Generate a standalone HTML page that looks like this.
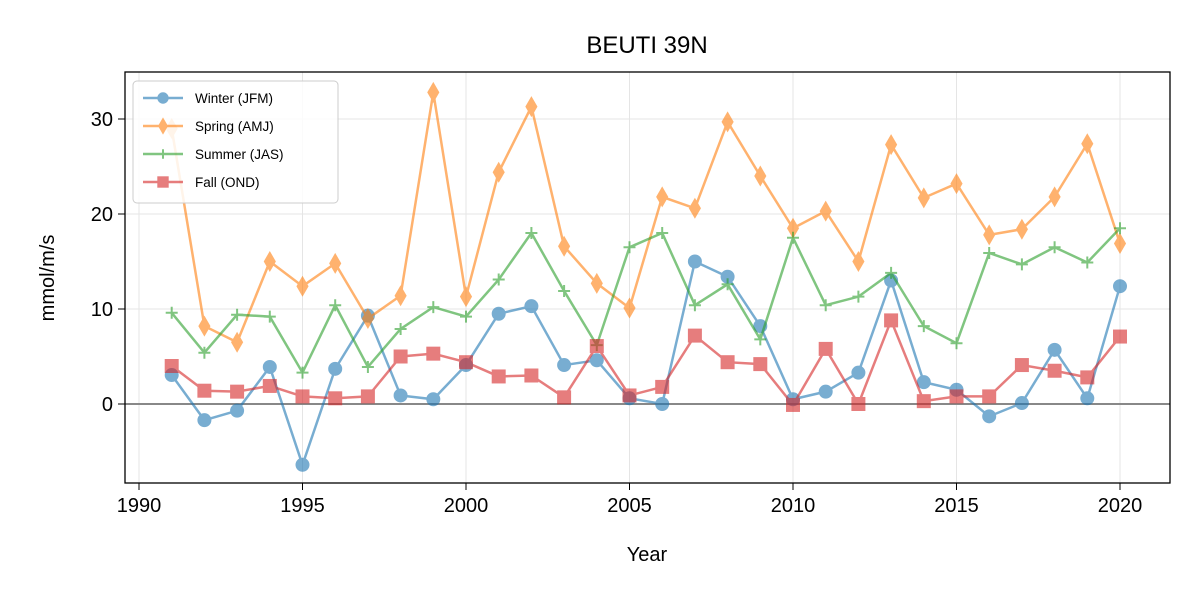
<!DOCTYPE html>
<html><head><meta charset="utf-8"><style>
body{margin:0;background:#fff;font-family:"Liberation Sans","DejaVu Sans",sans-serif}
</style></head><body>
<svg id="chart" width="1200" height="600" xmlns="http://www.w3.org/2000/svg"></svg>
<script>
const years=[1991,1992,1993,1994,1995,1996,1997,1998,1999,2000,2001,2002,2003,2004,2005,2006,2007,2008,2009,2010,2011,2012,2013,2014,2015,2016,2017,2018,2019,2020];
const winter=[3.05,-1.7,-0.7,3.9,-6.4,3.7,9.3,0.9,0.5,4.1,9.5,10.3,4.1,4.6,0.6,0,15.0,13.4,8.2,0.5,1.3,3.3,13,2.3,1.5,-1.3,0.1,5.7,0.6,12.4];
const spring=[29,8.2,6.5,15,12.4,14.8,9,11.4,32.8,11.3,24.4,31.3,16.6,12.7,10.1,21.8,20.6,29.7,24,18.5,20.3,15,27.3,21.7,23.2,17.8,18.4,21.8,27.4,16.9];
const summer=[9.6,5.4,9.4,9.2,3.3,10.4,3.9,7.9,10.2,9.2,13.1,18,11.9,6.2,16.5,18,10.4,12.6,6.8,17.5,10.4,11.3,13.8,8.2,6.4,15.9,14.7,16.5,14.9,18.5];
const fall=[4,1.4,1.3,1.9,0.8,0.6,0.8,5,5.3,4.4,2.9,3,0.7,6.1,0.9,1.8,7.2,4.4,4.2,-0.1,5.8,0,8.8,0.3,0.8,0.8,4.1,3.5,2.8,7.1];
const xTicks=[1990,1995,2000,2005,2010,2015,2020];
const yTicks=[0,10,20,30];
const seriesNames=["Winter (JFM)","Spring (AMJ)","Summer (JAS)","Fall (OND)"];
const NS="http://www.w3.org/2000/svg";
const svg=document.getElementById('chart');
const L=125,R=1170,T=72,B=483;
const X=v=>139+(v-1990)*(1120-139)/30;
const Y=v=>404-v*9.5;
function el(t,a,p){const e=document.createElementNS(NS,t);for(const k in a)e.setAttribute(k,a[k]);(p||svg).appendChild(e);return e;}
xTicks.forEach(t=>{const g=el('line',{x1:X(t),x2:X(t),y1:T,y2:B,stroke:'#e5e5e5','stroke-width':1});

});
yTicks.forEach(t=>{const g=el('line',{x1:L,x2:R,y1:Y(t),y2:Y(t),stroke:'#e5e5e5','stroke-width':1});

});
const zl=el('line',{x1:L,x2:R,y1:Y(0),y2:Y(0),stroke:'#888','stroke-width':2});


const cols=['#1f77b4','#ff7f0e','#2ca02c','#d62728'];
const data=[winter,spring,summer,fall];
function marker(k,x,y,c,g,s){
 s=s||1;
 if(k==0)return el('circle',{cx:x,cy:y,r:6.5*s,fill:c,stroke:c},g);
 if(k==1)return el('path',{d:`M${x},${y-9.5*s}L${x+5.5*s},${y}L${x},${y+9.5*s}L${x-5.5*s},${y}Z`,fill:c,stroke:c},g);
 if(k==2)return el('path',{d:`M${x-6*s},${y}H${x+6*s}M${x},${y-6*s}V${y+6*s}`,stroke:c,'stroke-width':2,fill:'none'},g);
 return el('rect',{x:x-6.5*s,y:y-6.5*s,width:13*s,height:13*s,fill:c,stroke:c},g);
}
data.forEach((d,k)=>{
 const g=el('g',{opacity:0.6});
 
 
 el('polyline',{points:d.map((v,i)=>X(years[i])+','+Y(v)).join(' '),fill:'none',stroke:cols[k],'stroke-width':2.5},g);
 d.forEach((v,i)=>{const m=marker(k,X(years[i]),Y(v),cols[k],g);
 
 });
});
const fr=el('rect',{x:L,y:T,width:R-L,height:B-T,fill:'none',stroke:'#000','stroke-width':1.3});


xTicks.forEach(t=>{el('line',{x1:X(t),x2:X(t),y1:B,y2:B+7,stroke:'#000'});
const tx=el('text',{x:X(t),y:B+29,'text-anchor':'middle','font-size':20});tx.textContent=t;

});
yTicks.forEach(t=>{el('line',{x1:L-7,x2:L,y1:Y(t),y2:Y(t),stroke:'#000'});
const tx=el('text',{x:L-12,y:Y(t)+7,'text-anchor':'end','font-size':20});tx.textContent=t;

});
const ttl=el('text',{x:647,y:53,'text-anchor':'middle','font-size':24});ttl.textContent='BEUTI 39N';


const xl=el('text',{x:647,y:561,'text-anchor':'middle','font-size':20});xl.textContent='Year';


const yl=el('text',{x:0,y:0,'text-anchor':'middle','font-size':20,transform:'translate(54,278) rotate(-90)'});yl.textContent='mmol/m/s';


const lg=el('g',{});


el('rect',{x:133,y:81,width:205,height:122,fill:'#fff','fill-opacity':0.85,stroke:'#ccc',rx:4},lg);
seriesNames.forEach((n,k)=>{const y=98+k*28;
const g=el('g',{},lg);


const gg=el('g',{opacity:0.6},g);
el('line',{x1:143,x2:183,y1:y,y2:y,stroke:cols[k],'stroke-width':2.5},gg);
marker(k,163,y,cols[k],gg,0.8);
const t=el('text',{x:195,y:y+5,'font-size':13.5},g);t.textContent=n;});
</script>
</body></html>
